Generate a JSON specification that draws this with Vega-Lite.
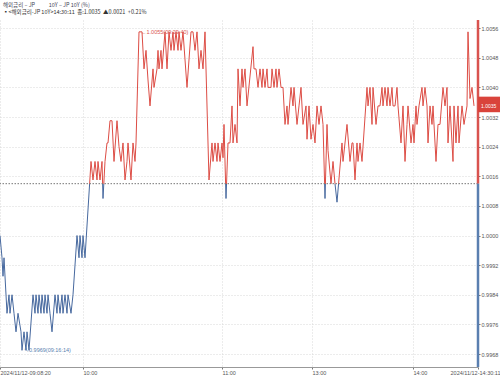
{
  "$schema": "https://vega.github.io/schema/vega-lite/v6.json",
  "width": 478,
  "height": 347,
  "autosize": {"type": "none"},
  "padding": {"left": 0, "top": 20, "right": 22, "bottom": 11},
  "background": "white",
  "title": {
    "text": "해외금리 – JP\u00a0\u00a0\u00a0\u00a0\u00a0\u00a0\u00a0\u00a0\u00a0\u00a0\u00a010Y – JP 10Y (%)",
    "subtitle": "▪<해외금리-JP 10Y>14:30:11\u00a0\u00a0종:1.0035\u00a0\u00a0▲0.0021\u00a0\u00a0+0.21%",
    "anchor": "start",
    "frame": "group",
    "font": "Noto Sans CJK KR",
    "subtitleFont": "Noto Sans CJK KR",
    "fontSize": 5.5,
    "subtitleFontSize": 5.5,
    "fontWeight": "normal",
    "color": "#445",
    "subtitleColor": "#333",
    "offset": 3,
    "subtitlePadding": 2,
    "dx": 3
  },
  "config": {
    "view": {"stroke": null},
    "axis": {"labelFont": "Liberation Sans", "labelFontSize": 5.5, "labelColor": "#555", "title": null, "labelOverlap": false}
  },
  "datasets": {
    "price": [
      {"t":0,"v":1.0000},{"t":2,"v":0.9994},{"t":3,"v":0.9989},{"t":4,"v":0.9994},{"t":7,"v":0.9979},{"t":9,"v":0.9984},{"t":10,"v":0.9979},{"t":12,"v":0.9984},{"t":14,"v":0.9979},{"t":16,"v":0.9974},{"t":18,"v":0.9979},{"t":21,"v":0.9974},{"t":22,"v":0.9969},{"t":24,"v":0.9974},{"t":26,"v":0.9969},{"t":27,"v":0.9974},{"t":29,"v":0.9969},{"t":33,"v":0.9984},{"t":35,"v":0.9979},{"t":36,"v":0.9984},{"t":38,"v":0.9979},{"t":39,"v":0.9984},{"t":41,"v":0.9979},{"t":42,"v":0.9984},{"t":44,"v":0.9979},{"t":45,"v":0.9984},{"t":47,"v":0.9979},{"t":48,"v":0.9984},{"t":50,"v":0.9979},{"t":52,"v":0.9974},{"t":55,"v":0.9984},{"t":57,"v":0.9979},{"t":58,"v":0.9984},{"t":60,"v":0.9979},{"t":62,"v":0.9984},{"t":63,"v":0.9979},{"t":65,"v":0.9984},{"t":67,"v":0.9979},{"t":68,"v":0.9984},{"t":71,"v":0.9979},{"t":73,"v":0.9984},{"t":77,"v":1.0000},{"t":79,"v":0.9994},{"t":80,"v":1.0000},{"t":82,"v":0.9994},{"t":83,"v":1.0000},{"t":85,"v":0.9994},{"t":91,"v":1.0020},{"t":93,"v":1.0015},{"t":95,"v":1.0020},{"t":97,"v":1.0015},{"t":98,"v":1.0020},{"t":100,"v":1.0015},{"t":102,"v":1.0020},{"t":103,"v":1.0010},{"t":105,"v":1.0020},{"t":107,"v":1.0025},{"t":108,"v":1.0025},{"t":110,"v":1.0031},{"t":112,"v":1.0031},{"t":114,"v":1.0020},{"t":117,"v":1.0031},{"t":119,"v":1.0024},{"t":121,"v":1.0020},{"t":123,"v":1.0025},{"t":125,"v":1.0015},{"t":127,"v":1.0020},{"t":128,"v":1.0025},{"t":131,"v":1.0015},{"t":133,"v":1.0025},{"t":135,"v":1.0020},{"t":136,"v":1.0025},{"t":139,"v":1.0055},{"t":142,"v":1.0055},{"t":144,"v":1.0045},{"t":146,"v":1.0050},{"t":148,"v":1.0042},{"t":150,"v":1.0035},{"t":153,"v":1.0045},{"t":154,"v":1.0040},{"t":157,"v":1.0045},{"t":158,"v":1.0050},{"t":159,"v":1.0045},{"t":161,"v":1.0050},{"t":162,"v":1.0045},{"t":165,"v":1.0055},{"t":167,"v":1.0045},{"t":169,"v":1.0055},{"t":171,"v":1.0050},{"t":173,"v":1.0055},{"t":174,"v":1.0050},{"t":176,"v":1.0055},{"t":178,"v":1.0050},{"t":179,"v":1.0055},{"t":181,"v":1.0050},{"t":183,"v":1.0055},{"t":187,"v":1.0040},{"t":191,"v":1.0055},{"t":193,"v":1.0055},{"t":195,"v":1.0050},{"t":197,"v":1.0055},{"t":199,"v":1.0045},{"t":201,"v":1.0050},{"t":203,"v":1.0045},{"t":205,"v":1.0055},{"t":209,"v":1.0015},{"t":212,"v":1.0025},{"t":213,"v":1.0020},{"t":215,"v":1.0025},{"t":217,"v":1.0020},{"t":218,"v":1.0025},{"t":220,"v":1.0020},{"t":222,"v":1.0025},{"t":223,"v":1.0021},{"t":224,"v":1.0030},{"t":226,"v":1.0010},{"t":228,"v":1.0025},{"t":230,"v":1.0025},{"t":232,"v":1.0035},{"t":233,"v":1.0025},{"t":235,"v":1.0030},{"t":237,"v":1.0025},{"t":238,"v":1.0045},{"t":240,"v":1.0035},{"t":242,"v":1.0045},{"t":243,"v":1.0040},{"t":245,"v":1.0045},{"t":247,"v":1.0035},{"t":253,"v":1.0051},{"t":254,"v":1.0045},{"t":256,"v":1.0045},{"t":258,"v":1.0040},{"t":260,"v":1.0045},{"t":262,"v":1.0040},{"t":263,"v":1.0045},{"t":265,"v":1.0040},{"t":267,"v":1.0045},{"t":268,"v":1.0040},{"t":271,"v":1.0040},{"t":272,"v":1.0045},{"t":274,"v":1.0040},{"t":276,"v":1.0045},{"t":277,"v":1.0040},{"t":279,"v":1.0045},{"t":281,"v":1.0040},{"t":283,"v":1.0040},{"t":285,"v":1.0030},{"t":287,"v":1.0035},{"t":288,"v":1.0030},{"t":291,"v":1.0040},{"t":293,"v":1.0035},{"t":294,"v":1.0040},{"t":297,"v":1.0030},{"t":299,"v":1.0035},{"t":301,"v":1.0040},{"t":303,"v":1.0030},{"t":306,"v":1.0035},{"t":307,"v":1.0026},{"t":309,"v":1.0035},{"t":311,"v":1.0026},{"t":313,"v":1.0030},{"t":315,"v":1.0025},{"t":317,"v":1.0035},{"t":319,"v":1.0030},{"t":321,"v":1.0035},{"t":323,"v":1.0030},{"t":325,"v":1.0010},{"t":327,"v":1.0030},{"t":328,"v":1.0023},{"t":331,"v":1.0014},{"t":333,"v":1.0020},{"t":335,"v":1.0014},{"t":337,"v":1.0009},{"t":342,"v":1.0025},{"t":343,"v":1.0020},{"t":347,"v":1.0030},{"t":350,"v":1.0020},{"t":352,"v":1.0025},{"t":353,"v":1.0025},{"t":355,"v":1.0015},{"t":357,"v":1.0025},{"t":358,"v":1.0020},{"t":360,"v":1.0025},{"t":362,"v":1.0020},{"t":367,"v":1.0040},{"t":368,"v":1.0035},{"t":370,"v":1.0040},{"t":372,"v":1.0030},{"t":373,"v":1.0040},{"t":376,"v":1.0030},{"t":378,"v":1.0035},{"t":380,"v":1.0035},{"t":382,"v":1.0040},{"t":383,"v":1.0035},{"t":385,"v":1.0040},{"t":387,"v":1.0035},{"t":388,"v":1.0040},{"t":390,"v":1.0035},{"t":392,"v":1.0040},{"t":393,"v":1.0035},{"t":395,"v":1.0035},{"t":397,"v":1.0040},{"t":398,"v":1.0035},{"t":401,"v":1.0025},{"t":403,"v":1.0035},{"t":405,"v":1.0020},{"t":407,"v":1.0030},{"t":408,"v":1.0035},{"t":411,"v":1.0025},{"t":413,"v":1.0030},{"t":414,"v":1.0025},{"t":416,"v":1.0035},{"t":417,"v":1.0030},{"t":419,"v":1.0035},{"t":422,"v":1.0040},{"t":423,"v":1.0035},{"t":425,"v":1.0040},{"t":427,"v":1.0035},{"t":428,"v":1.0025},{"t":430,"v":1.0035},{"t":432,"v":1.0030},{"t":433,"v":1.0035},{"t":436,"v":1.0020},{"t":438,"v":1.0030},{"t":440,"v":1.0030},{"t":443,"v":1.0040},{"t":445,"v":1.0035},{"t":447,"v":1.0040},{"t":448,"v":1.0025},{"t":450,"v":1.0035},{"t":453,"v":1.0020},{"t":454,"v":1.0035},{"t":456,"v":1.0025},{"t":458,"v":1.0035},{"t":459,"v":1.0025},{"t":462,"v":1.0035},{"t":464,"v":1.0030},{"t":467,"v":1.0035},{"t":468,"v":1.0055},{"t":470,"v":1.0037},{"t":472,"v":1.0040},{"t":474,"v":1.0035}
    ],
    "axisbar": [
      {"t": 478, "lo": 1.0014, "hi": 1.00582, "side": "up"},
      {"t": 478, "lo": 0.99645, "hi": 1.0014, "side": "down"}
    ],
    "notes": [
      {"t": 139, "v": 1.0055, "label": "←1.0055(09:29:40)", "kind": "high"},
      {"t": 22, "v": 0.9969, "label": "↖0.9969(09:16:14)", "kind": "low"}
    ],
    "last": [
      {"t": 478, "v": 1.0035, "lo": 1.00333, "hi": 1.00375, "label": "1.0035"}
    ],
    "base": [{"v": 1.0014}]
  },
  "layer": [
    {
      "data": {"name": "price"},
      "mark": {
        "type": "line",
        "strokeWidth": 1,
        "interpolate": "linear",
        "color": {
          "gradient": "linear",
          "x1": 0, "y1": 0, "x2": 0, "y2": 1,
          "stops": [
            {"offset": 0, "color": "#dc4c44"},
            {"offset": 0.4767, "color": "#dc4c44"},
            {"offset": 0.4767, "color": "#46689e"},
            {"offset": 1, "color": "#46689e"}
          ]
        }
      },
      "encoding": {
        "x": {
          "field": "t", "type": "quantitative",
          "scale": {"domain": [0, 478], "nice": false, "zero": false},
          "axis": {
            "orient": "bottom",
            "values": [0, 83, 222, 312, 413, 478],
            "tickCount": 20,
            "labelExpr": "datum.value == 0 ? '2024/11/12-09:08:20' : datum.value == 83 ? '10:00' : datum.value == 222 ? '11:00' : datum.value == 312 ? '13:00' : datum.value == 413 ? '14:00' : '2024/11/12-14:30:11'",
            "labelAlign": {"condition": {"test": "datum.value >= 478", "value": "right"}, "value": "left"},
            "labelOffset": {"condition": {"test": "datum.value >= 478", "value": 22}, "value": 0},
            "labelFlush": false,
            "labelOverlap": false,
            "labelPadding": 1,
            "tickSize": 2,
            "tickColor": "#777",
            "domainColor": "#999",
            "domainWidth": 1,
            "grid": true,
            "gridColor": "#d8d8d8",
            "gridDash": [1, 2]
          }
        },
        "y": {
          "field": "v", "type": "quantitative",
          "scale": {"domain": [0.99645, 1.00582], "nice": false, "zero": false},
          "axis": {
            "orient": "right",
            "values": [0.9968, 0.9976, 0.9984, 0.9992, 1.0000, 1.0008, 1.0016, 1.0024, 1.0032, 1.0040, 1.0048, 1.0056],
            "tickCount": 30,
            "format": ".4f",
            "labelOverlap": false,
            "domain": false,
            "tickSize": 2,
            "tickColor": "#777",
            "labelPadding": 1,
            "grid": true,
            "gridColor": "#d8d8d8",
            "gridDash": [1, 2]
          }
        }
      }
    },
    {
      "data": {"name": "base"},
      "mark": {"type": "rule", "color": "#777", "strokeDash": [1.5, 1.5], "strokeWidth": 1},
      "encoding": {"y": {"field": "v", "type": "quantitative"}}
    },
    {
      "data": {"name": "axisbar"},
      "mark": {"type": "rule", "strokeWidth": 2.5},
      "encoding": {
        "x": {"field": "t", "type": "quantitative"},
        "y": {"field": "lo", "type": "quantitative"},
        "y2": {"field": "hi"},
        "color": {"field": "side", "type": "nominal", "scale": {"domain": ["up", "down"], "range": ["#d9534f", "#5a7fb0"]}, "legend": null}
      }
    },
    {
      "data": {"name": "notes"},
      "mark": {"type": "text", "align": "left", "fontSize": 5.5, "font": "Liberation Sans", "dx": 2},
      "encoding": {
        "x": {"field": "t", "type": "quantitative"},
        "y": {"field": "v", "type": "quantitative"},
        "text": {"field": "label"},
        "yOffset": {"condition": {"test": "datum.kind == 'low'", "value": 7}, "value": 0},
        "color": {"field": "kind", "type": "nominal", "scale": {"domain": ["high", "low"], "range": ["#c0392b", "#46689e"]}, "legend": null}
      }
    },
    {
      "data": {"name": "last"},
      "mark": {"type": "rect", "color": "#d9433b", "x2Offset": 22, "clip": false},
      "encoding": {
        "x": {"field": "t", "type": "quantitative"},
        "x2": {"field": "t"},
        "y": {"field": "lo", "type": "quantitative"},
        "y2": {"field": "hi"}
      }
    },
    {
      "data": {"name": "last"},
      "mark": {"type": "text", "color": "white", "fontSize": 5, "font": "Liberation Sans", "align": "left", "dx": 3},
      "encoding": {
        "x": {"field": "t", "type": "quantitative"},
        "y": {"field": "v", "type": "quantitative"},
        "text": {"field": "label"}
      }
    }
  ]
}
